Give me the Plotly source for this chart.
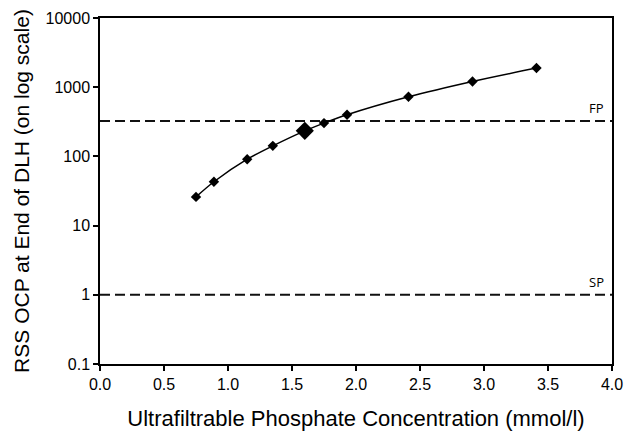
import numpy as np
import plotly.graph_objects as go

# Measured RSS OCP versus ultrafiltrable phosphate
phosphate = [0.75, 0.89, 1.15, 1.35, 1.60, 1.75, 1.93, 2.41, 2.91, 3.41]
rss_ocp = [26, 43, 91, 142, 234, 303, 400, 727, 1210, 1890]

# Highlighted reference point
hi_x = [1.60]
hi_y = [234]

# Threshold levels
fp_level = 325
sp_level = 1
x_span = [0.0, 4.0]

x_ticks = [0.0, 0.5, 1.0, 1.5, 2.0, 2.5, 3.0, 3.5, 4.0]
x_tick_text = ["0.0", "0.5", "1.0", "1.5", "2.0", "2.5", "3.0", "3.5", "4.0"]
y_ticks = [0.1, 1, 10, 100, 1000, 10000]
y_tick_text = ["0.1", "1", "10", "100", "1000", "10000"]

fig = go.Figure()

for level in (fp_level, sp_level):
    fig.add_trace(go.Scatter(
        x=x_span, y=[level, level], mode="lines",
        line=dict(color="#111111", width=2, dash="10px,5px"),
        hoverinfo="skip", showlegend=False,
    ))

fig.add_trace(go.Scatter(
    x=phosphate, y=rss_ocp, mode="lines+markers",
    line=dict(color="#000000", width=1.5, shape="spline", smoothing=0.8),
    marker=dict(symbol="diamond", size=8, color="#000000"),
    showlegend=False,
))

fig.add_trace(go.Scatter(
    x=hi_x, y=hi_y, mode="markers",
    marker=dict(symbol="diamond", size=14, color="#000000"),
    showlegend=False,
))

label_font = dict(family="Open Sans, Noto Sans, sans-serif", size=13, color="#000000")
for text, level in (("FP", fp_level), ("SP", sp_level)):
    fig.add_annotation(
        x=3.88, y=np.log10(level), xref="x", yref="y",
        text=text, showarrow=False, yshift=13, font=label_font,
    )

tick_font = dict(family="Liberation Sans, Arial, sans-serif", size=16, color="#000000")
xtitle_font = dict(family="Liberation Sans, Arial, sans-serif", size=22, color="#000000")
ytitle_font = dict(family="Liberation Sans, Arial, sans-serif", size=21, color="#000000")

fig.update_layout(
    width=630, height=433,
    margin=dict(l=100, r=18, t=18, b=69, autoexpand=False),
    paper_bgcolor="white", plot_bgcolor="white",
    font=tick_font,
)

fig.update_xaxes(
    range=x_span, tickvals=x_ticks, ticktext=x_tick_text,
    showgrid=False, zeroline=False, automargin=False,
    showline=True, linecolor="#000000", linewidth=1.5, mirror=True,
    ticks="outside", ticklen=5, tickwidth=1.5, tickcolor="#000000",
    tickfont=tick_font,
    title=dict(text="Ultrafiltrable Phosphate Concentration (mmol/l)",
               font=xtitle_font, standoff=19),
)

fig.update_yaxes(
    type="log", range=[-1, 4], tickvals=y_ticks, ticktext=y_tick_text,
    showgrid=False, zeroline=False, automargin=False,
    showline=True, linecolor="#000000", linewidth=1.5, mirror=True,
    ticks="outside", ticklen=5, tickwidth=1.5, tickcolor="#000000",
    tickfont=tick_font,
    title=dict(text="RSS OCP at End of DLH (on log scale)",
               font=ytitle_font, standoff=10),
)

fig.write_html("out.html")
